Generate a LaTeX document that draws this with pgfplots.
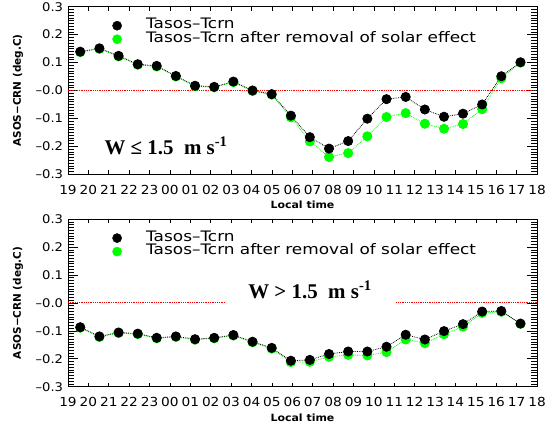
\documentclass[border=0pt]{standalone}
\usepackage{pgfplots}
\pgfplotsset{compat=1.18}
\usepackage{fontspec}
\setmainfont{DejaVu Sans}
\newfontfamily\sansw[FakeStretch=1.1]{DejaVu Sans}
\newfontfamily\sansl[FakeStretch=1.17]{DejaVu Sans}
\newfontfamily\serifb{Liberation Serif}
\definecolor{igreen}{RGB}{0,255,0}
\definecolor{ired}{RGB}{255,0,0}

\pgfplotstableread{
x      top    topg    bot     botg
19.60  0.139  0.137  -0.087  -0.089
20.54  0.151  0.149  -0.120  -0.122
21.48  0.124  0.122  -0.106  -0.108
22.42  0.094  0.092  -0.110  -0.112
23.35  0.088  0.086  -0.125  -0.127
24.29  0.052  0.050  -0.120  -0.122
25.23  0.017  0.015  -0.130  -0.132
26.17  0.013  0.011  -0.125  -0.127
27.11  0.032  0.030  -0.115  -0.117
28.05  0.000 -0.002  -0.139  -0.141
28.99 -0.013 -0.015  -0.161  -0.164
29.93 -0.090 -0.096  -0.207  -0.212
30.86 -0.167 -0.182  -0.204  -0.211
31.80 -0.208 -0.238  -0.183  -0.193
32.74 -0.181 -0.224  -0.174  -0.186
33.68 -0.101 -0.164  -0.174  -0.188
34.62 -0.031 -0.095  -0.157  -0.176
35.56 -0.023 -0.081  -0.114  -0.131
36.50 -0.068 -0.119  -0.131  -0.144
37.44 -0.094 -0.137  -0.101  -0.112
38.37 -0.083 -0.120  -0.076  -0.085
39.31 -0.050 -0.067  -0.031  -0.036
40.25  0.051  0.044  -0.029  -0.032
41.19  0.101  0.100  -0.074  -0.075
}\data

\pgfplotsset{
  panel/.style={
    scale only axis, width=469bp, height=167.6bp,
    xmin=19, xmax=42, ymin=-0.3, ymax=0.3,
    xtick={19,...,42},
    xticklabels={19,20,21,22,23,00,01,02,03,04,05,06,07,08,09,10,11,12,13,14,15,16,17,18},
    ytick={-0.3,-0.2,-0.1,0,0.1,0.2,0.3},
    yticklabels={–0.3,–0.2,–0.1,–0.0,0.1,0.2,0.3},
    minor y tick num=9,
    tick align=inside,
    major tick length=10bp, minor tick length=5.7bp,
    xtick style={/pgfplots/major tick length=4bp},
    tick style={black, line width=0.6bp},
    axis line style={line width=0.8bp},
    x tick label style={font=\sansw\fontsize{12.5}{13}\selectfont, inner sep=0pt, anchor=north, yshift=-10.5bp},
    y tick label style={font=\sansw\fontsize{12}{13}\selectfont, inner sep=0pt, anchor=east, xshift=-4.7bp},
    xlabel={Local time},
    xlabel style={font=\sansw\bfseries\fontsize{10}{11}\selectfont, at={(axis description cs:0.5,-0.183)}, anchor=center},
    ylabel={ASOS−CRN (deg.C)},
    ylabel style={font=\bfseries\fontsize{10.5}{11}\selectfont, at={(axis description cs:-0.1066,0.5)}, anchor=center},
    legend cell align=left,
    legend style={at={(axis description cs:0.0949,1)}, anchor=north west, yshift=-12bp,
      draw=none, fill=none, inner sep=0pt, outer sep=0pt, row sep=-0.5bp, column sep=24.5bp,
      font=\sansl\fontsize{14.5}{15}\selectfont,
      nodes={inner sep=0pt, text height=10bp, text depth=4bp}},
  },
  dat/.style={densely dotted, line width=0.8bp, mark=*, mark size=4.6bp, mark options={solid}},
}

\begin{document}
\begin{tikzpicture}
\useasboundingbox (0,0) rectangle (550bp,427bp);
\begin{axis}[panel, at={(68bp,252.7bp)}, anchor=south west]
  \addlegendimage{only marks, mark=*, mark size=4.6bp, black}
  \addlegendentry{Tasos–Tcrn}
  \addlegendimage{only marks, mark=*, mark size=4.6bp, igreen}
  \addlegendentry{Tasos–Tcrn after removal of solar effect}
  \addplot[ired, densely dotted, line width=0.8bp, forget plot] coordinates {(19,0) (42,0)};
  \addplot[dat, igreen, forget plot] table[x=x, y=topg] {\data};
  \addplot[dat, black, forget plot] table[x=x, y=top] {\data};
  \node[font=\serifb\bfseries\fontsize{21}{22}\selectfont] at (rel axis cs:0.209,0.169) {W ≤ 1.5\ \ m s\textsuperscript{-1}};
\end{axis}
\begin{axis}[panel, at={(68bp,40.3bp)}, anchor=south west]
  \addlegendimage{only marks, mark=*, mark size=4.6bp, black}
  \addlegendentry{Tasos–Tcrn}
  \addlegendimage{only marks, mark=*, mark size=4.6bp, igreen}
  \addlegendentry{Tasos–Tcrn after removal of solar effect}
  \addplot[ired, densely dotted, line width=0.8bp, forget plot] coordinates {(19,0) (26.74,0)};
  \addplot[ired, densely dotted, line width=0.8bp, forget plot] coordinates {(35.1,0) (42,0)};
  \addplot[dat, igreen, forget plot] table[x=x, y=botg] {\data};
  \addplot[dat, black, forget plot] table[x=x, y=bot] {\data};
  \node[font=\serifb\bfseries\fontsize{21}{22}\selectfont] at (rel axis cs:0.516,0.577) {W > 1.5\ \ m s\textsuperscript{-1}};
\end{axis}
\end{tikzpicture}
\end{document}
